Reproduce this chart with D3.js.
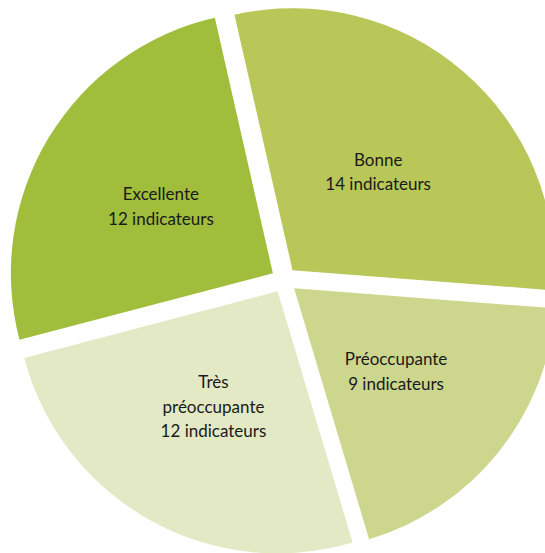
<!DOCTYPE html>
<html>
<head>
<meta charset="utf-8">
<script src="https://cdn.jsdelivr.net/npm/d3@7"></script>
<style>
  body { margin: 0; background: #fff; }
</style>
</head>
<body>
<div id="pieView"></div>
<script>
// slices, clockwise from the top
let categories = ["Bonne", "Préoccupante", "Très préoccupante", "Excellente"];
let counts = [14, 9, 12, 12];
let labelLines = [["Bonne", "14 indicateurs"],
                  ["Préoccupante", "9 indicateurs"],
                  ["Très", "préoccupante", "12 indicateurs"],
                  ["Excellente", "12 indicateurs"]];
let sliceColors = ["#b8c757", "#cdd68d", "#e3e8c5", "#a0bd3c"];

let width = 545, height = 553;
let cx = 284, cy = 280, radius = 262, explode = 13;

let svg = d3.select("#pieView").append("svg")
  .attr("width", width).attr("height", height);

let data = categories.map((c, i) => ({name: c, value: counts[i], lines: labelLines[i], color: sliceColors[i]}));

let startA = -12.8 * Math.PI / 180;
let pie = d3.pie().sort(null).value(d => d.value)
  .startAngle(startA).endAngle(startA + 2 * Math.PI);

let arc = d3.arc().innerRadius(0).outerRadius(radius);

let g = svg.append("g").attr("transform", `translate(${cx},${cy})`);

let slices = g.selectAll("g.slice").data(pie(data)).enter().append("g")
  .attr("class", "slice")
  .attr("transform", function(d){
    let mid = (d.startAngle + d.endAngle) / 2;
    return `translate(${explode * Math.sin(mid)},${-explode * Math.cos(mid)})`;
  });

slices.append("path")
  .attr("d", arc)
  .attr("fill", d => d.data.color);

let lineH = 24.5;
slices.append("text")
  .attr("transform", d => `translate(${arc.centroid(d)})`)
  .attr("text-anchor", "middle")
  .style("font-family", "Lato, 'Open Sans', sans-serif")
  .style("font-size", "17px")
  .attr("fill", "#1a1a1a")
  .selectAll("tspan").data(d => d.data.lines.map((l, i, a) => ({t: l, i: i, n: a.length})))
  .enter().append("tspan")
  .attr("x", 0)
  .attr("y", d => (d.i - (d.n - 1) / 2) * lineH + 7)
  .text(d => d.t);
</script>
</body>
</html>
